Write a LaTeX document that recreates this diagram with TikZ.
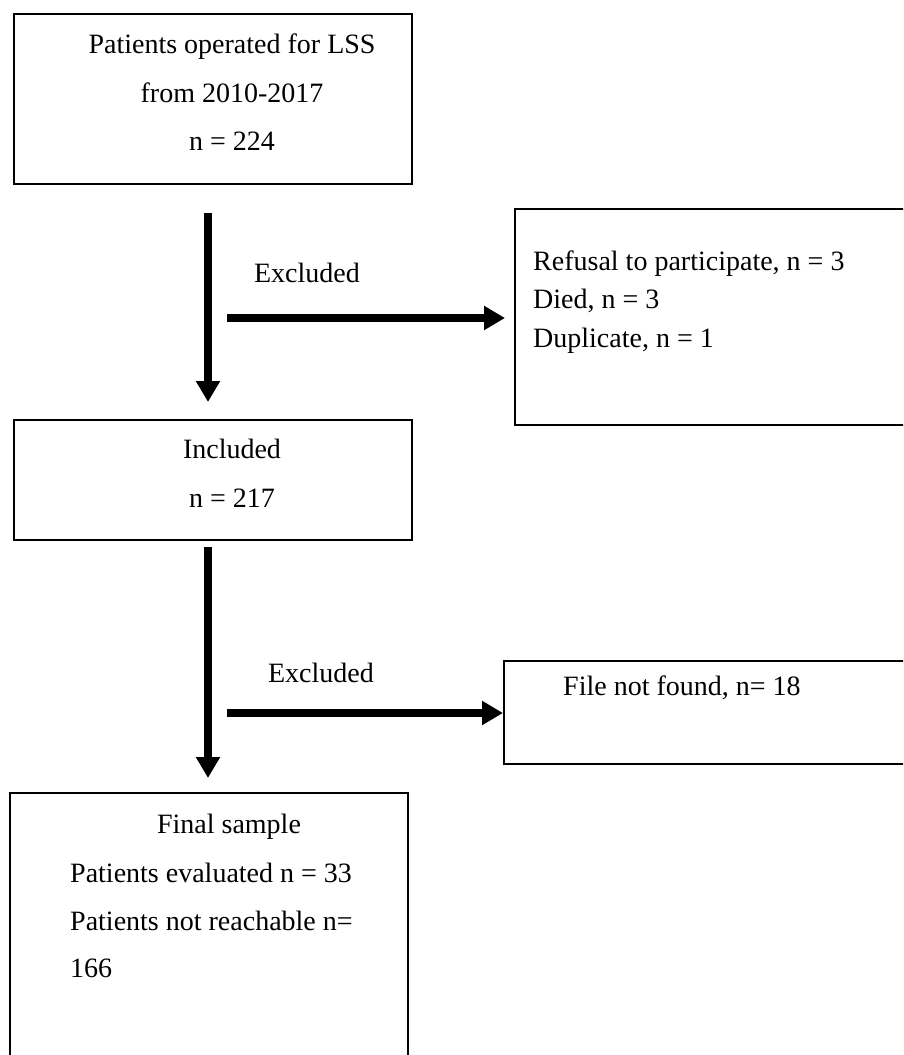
\documentclass[tikz,border=0pt]{standalone}
\usepackage{fontspec}
\setmainfont{Liberation Serif}
\usetikzlibrary{arrows.meta}
\begin{document}
\begin{tikzpicture}[x=1pt,y=-1pt,
  box/.style={draw, line width=1.6pt, inner sep=0, anchor=north west},
  txt/.style={inner sep=0, font=\fontsize{28}{34}\selectfont},
  flow/.style={line width=8pt, -{Triangle[length=21pt,width=23pt]}}]
\useasboundingbox (0,0) rectangle (903,1055);
\clip (0,0) rectangle (903,1055);
% boxes
\node[box, minimum width=398pt, minimum height=170pt] (b1) at (13,13) {};
\node[box, minimum width=420pt, minimum height=216pt] (rb1) at (514,208) {};
\node[box, minimum width=398pt, minimum height=120pt] (b2) at (13,419) {};
\node[box, minimum width=420pt, minimum height=103pt] (rb2) at (503,660) {};
\node[box, minimum width=398pt, minimum height=300pt] (b3) at (9,792) {};
% texts
\node[txt, anchor=base] (t11) at (232,53) {Patients operated for LSS};
\node[txt, anchor=base] (t12) at (232,102) {from 2010-2017};
\node[txt, anchor=base] (t13) at (232,150) {n = 224};
\node[txt, anchor=base west] (r11) at (533,270) {Refusal to participate, n = 3};
\node[txt, anchor=base west] (r12) at (533,308) {Died, n = 3};
\node[txt, anchor=base west] (r13) at (533,347) {Duplicate, n = 1};
\node[txt, anchor=base] (t21) at (232,458) {Included};
\node[txt, anchor=base] (t22) at (232,507) {n = 217};
\node[txt, anchor=base] (ex1) at (307,282) {Excluded};
\node[txt, anchor=base] (ex2) at (321,682) {Excluded};
\node[txt, anchor=base west] (r21) at (563,695) {File not found, n= 18};
\node[txt, anchor=base] (t31) at (229,833) {Final sample};
\node[txt, anchor=base west] (t32) at (70,882) {Patients evaluated n = 33};
\node[txt, anchor=base west] (t33) at (70,930) {Patients not reachable n=};
\node[txt, anchor=base west] (t34) at (70,977) {166};
% arrows
\coordinate (a1s) at (208,213);
\coordinate (a1e) at (208,402);
\coordinate (h1s) at (227,318);
\coordinate (h1e) at (505,318);
\coordinate (a2s) at (208,547);
\coordinate (a2e) at (208,778);
\coordinate (h2s) at (227,713);
\draw[flow] (a1s) -- (a1e);
\draw[flow] (h1s) -- (h1e);
\draw[flow] (a2s) -- (a2e);
\draw[flow] (h2s) -- (rb2.west |- h2s);
\end{tikzpicture}
\end{document}
